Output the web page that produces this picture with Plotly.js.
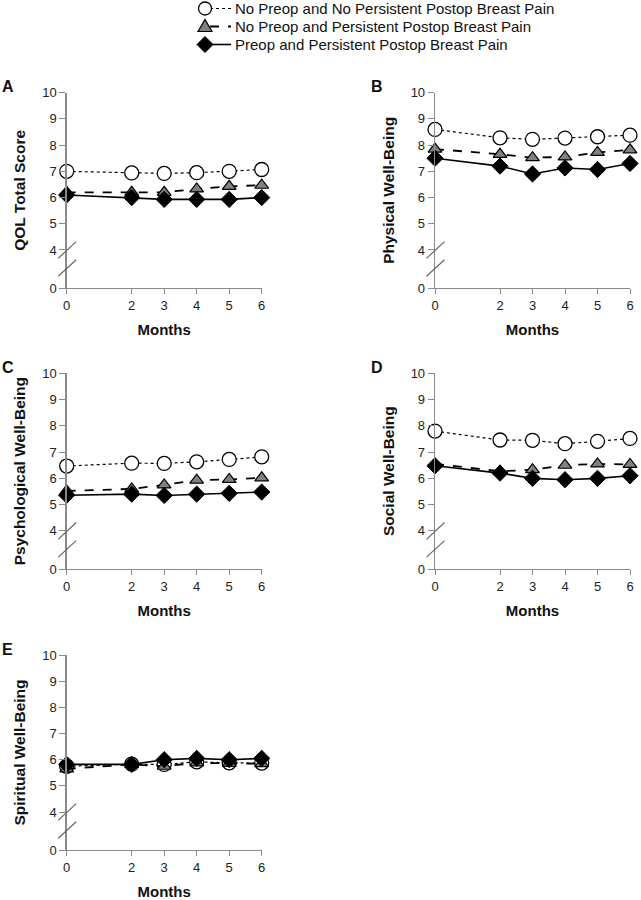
<!DOCTYPE html>
<html>
<head>
<meta charset="utf-8">
<script src="https://cdn.plot.ly/plotly-3.0.1.min.js"></script>
<style>html,body{margin:0;padding:0;background:#fff;}#chart{width:641px;height:900px;}</style>
</head>
<body>
<div id="chart"></div>
<script>
// ---- data ----
const months = [0, 2, 3, 4, 5, 6];
const seriesNames = [
  "No Preop and No Persistent Postop Breast Pain",
  "No Preop and Persistent Postop Breast Pain",
  "Preop and Persistent Postop Breast Pain"
];
const panelLetters = ["A", "B", "C", "D", "E"];
const panelTitles = ["QOL Total Score", "Physical Well-Being", "Psychological Well-Being", "Social Well-Being", "Spiritual Well-Being"];

const qolNoNo   = [7.00, 6.94, 6.92, 6.95, 7.00, 7.07];
const qolNoYes  = [6.20, 6.20, 6.20, 6.33, 6.43, 6.47];
const qolYesYes = [6.10, 6.00, 5.93, 5.93, 5.93, 6.00];

const physNoNo   = [8.60, 8.28, 8.22, 8.27, 8.32, 8.38];
const physNoYes  = [7.85, 7.65, 7.52, 7.55, 7.72, 7.82];
const physYesYes = [7.50, 7.20, 6.90, 7.13, 7.07, 7.30];

const psychNoNo   = [6.47, 6.58, 6.57, 6.63, 6.72, 6.82];
const psychNoYes  = [5.52, 5.60, 5.75, 5.93, 5.96, 6.02];
const psychYesYes = [5.36, 5.40, 5.35, 5.40, 5.43, 5.48];

const socNoNo   = [7.80, 7.46, 7.45, 7.32, 7.41, 7.52];
const socNoYes  = [6.55, 6.27, 6.33, 6.50, 6.55, 6.53];
const socYesYes = [6.48, 6.20, 6.00, 5.95, 6.00, 6.10];

const spirNoNo   = [5.75, 5.83, 5.82, 5.92, 5.88, 5.87];
const spirNoYes  = [5.65, 5.82, 5.75, 5.88, 5.86, 5.85];
const spirYesYes = [5.82, 5.82, 6.00, 6.05, 6.00, 6.05];

const yTickLabels = ["0", "4", "5", "6", "7", "8", "9", "10"];
const yTickVals   = [2.55, 4, 5, 6, 7, 8, 9, 10];   // 0 drawn below an axis break
const xTickVals   = [0, 2, 3, 4, 5, 6];

const panelData = [
  [qolNoNo, qolNoYes, qolYesYes],
  [physNoNo, physNoYes, physYesYes],
  [psychNoNo, psychNoYes, psychYesYes],
  [socNoNo, socNoYes, socYesYes],
  [spirNoNo, spirNoYes, spirYesYes]
];

// ---- styling ----
const W = 641, H = 900;
const colX = [[66.7, 261.7], [435, 630]];
const rowY = [[92.7, 288], [373.3, 569], [655, 850]];
const styles = [
  {line: {color: "#000", width: 1.2, dash: "dot"}, marker: {symbol: "circle", size: 14, color: "#fff", line: {color: "#000", width: 1.3}}},
  {line: {color: "#000", width: 1.8, dash: "dash"}, marker: {symbol: "triangle-up", size: 12, color: "#808080", line: {color: "#000", width: 1.2}}},
  {line: {color: "#000", width: 1.6, dash: "solid"}, marker: {symbol: "diamond", size: 12.5, color: "#000", line: {color: "#000", width: 1}}}
];

const font = "Arial, 'Liberation Sans', sans-serif";
const traces = [];
const layout = {
  width: W, height: H,
  margin: {l: 0, r: 0, t: 0, b: 0},
  paper_bgcolor: "#fff", plot_bgcolor: "#fff",
  font: {family: font, color: "#222", size: 13},
  showlegend: false,
  shapes: [], annotations: []
};

panelData.forEach((series, p) => {
  const col = p % 2, row = Math.floor(p / 2);
  const ax = p === 0 ? "" : String(p + 1);
  const xa = "xaxis" + ax, ya = "yaxis" + ax;
  const x0 = colX[col][0] / W, x1 = colX[col][1] / W;
  const y1 = 1 - rowY[row][0] / H, y0 = 1 - rowY[row][1] / H;
  layout[xa] = {
    domain: [x0, x1], anchor: "y" + ax, range: [0, 6], tickvals: xTickVals,
    showgrid: false, zeroline: false, showline: true, linecolor: "#8a8a8a", linewidth: 1.3,
    ticks: "outside", ticklen: 5, tickcolor: "#8a8a8a", tickfont: {size: 13, color: "#222"},
    title: {text: "<b>Months</b>", font: {size: 15, color: "#111"}, standoff: 12}
  };
  layout[ya] = {
    domain: [y0, y1], anchor: "x" + ax, range: [2.55, 10], tickvals: yTickVals, ticktext: yTickLabels,
    showgrid: false, zeroline: false, showline: true, linecolor: "#8a8a8a", linewidth: 1.3,
    ticks: "outside", ticklen: 6, tickcolor: "#8a8a8a", tickfont: {size: 13, color: "#222"},
    title: {text: "<b>" + panelTitles[p] + "</b>", font: {size: 15.5, color: "#111"}}
  };
  series.forEach((vals, s) => {
    traces.push({
      type: "scatter", mode: "lines+markers", x: months, y: vals,
      xaxis: "x" + ax, yaxis: "y" + ax, name: seriesNames[s],
      showlegend: false, cliponaxis: false,
      line: styles[s].line, marker: styles[s].marker
    });
  });
  // axis break slashes
  const ax0 = (colX[col][0] - 8.5) / W, ax1 = (colX[col][0] + 9.5) / W;
  [[3.68, 4.32], [3.0, 3.63]].forEach(([ya0, ya1]) => {
    layout.shapes.push({type: "line", xref: "paper", yref: "y" + ax, x0: ax0, x1: ax1, y0: ya0, y1: ya1,
                        line: {color: "#666", width: 1.2}});
  });
  // panel letter
  layout.annotations.push({
    text: "<b>" + panelLetters[p] + "</b>", xref: "paper", yref: "paper",
    x: (col === 0 ? 7.5 : 376.7) / W, y: 1 - (rowY[row][0] - 6) / H,
    xanchor: "center", yanchor: "middle", showarrow: false, font: {size: 16, color: "#111", family: font}
  });
});

// ---- key (legend) drawn at the top ----
const px = v => v / W, py = v => 1 - v / H;
const keyRows = [8.5, 26.5, 44.5];
const keyMx = 205;
keyRows.forEach((yc, s) => {
  const st = styles[s];
  layout.shapes.push({type: "line", xref: "paper", yref: "paper", x0: px(keyMx + 5), x1: px(231), y0: py(yc), y1: py(yc),
                      line: {color: "#000", width: st.line.width, dash: st.line.dash}});
  if (s === 0) {
    layout.shapes.push({type: "circle", xref: "paper", yref: "paper", x0: px(keyMx - 6.5), x1: px(keyMx + 6.5),
                        y0: py(yc + 6.5), y1: py(yc - 6.5), fillcolor: "#fff", line: {color: "#000", width: 1.3}});
  } else if (s === 1) {
    const path = `M${px(keyMx - 7)},${py(yc + 5)} L${px(keyMx + 7)},${py(yc + 5)} L${px(keyMx)},${py(yc - 7)} Z`;
    layout.shapes.push({type: "path", xref: "paper", yref: "paper", path: path, fillcolor: "#808080", line: {color: "#000", width: 1.2}});
  } else {
    const path = `M${px(keyMx - 8)},${py(yc)} L${px(keyMx)},${py(yc - 8)} L${px(keyMx + 8)},${py(yc)} L${px(keyMx)},${py(yc + 8)} Z`;
    layout.shapes.push({type: "path", xref: "paper", yref: "paper", path: path, fillcolor: "#000", line: {color: "#000", width: 1}});
  }
  layout.annotations.push({
    text: seriesNames[s], xref: "paper", yref: "paper", x: px(233), y: py(yc),
    xanchor: "left", yanchor: "middle", showarrow: false, font: {size: 15, color: "#111", family: font}
  });
});

Plotly.newPlot("chart", traces, layout, {displayModeBar: false, staticPlot: true});
</script>
</body>
</html>
